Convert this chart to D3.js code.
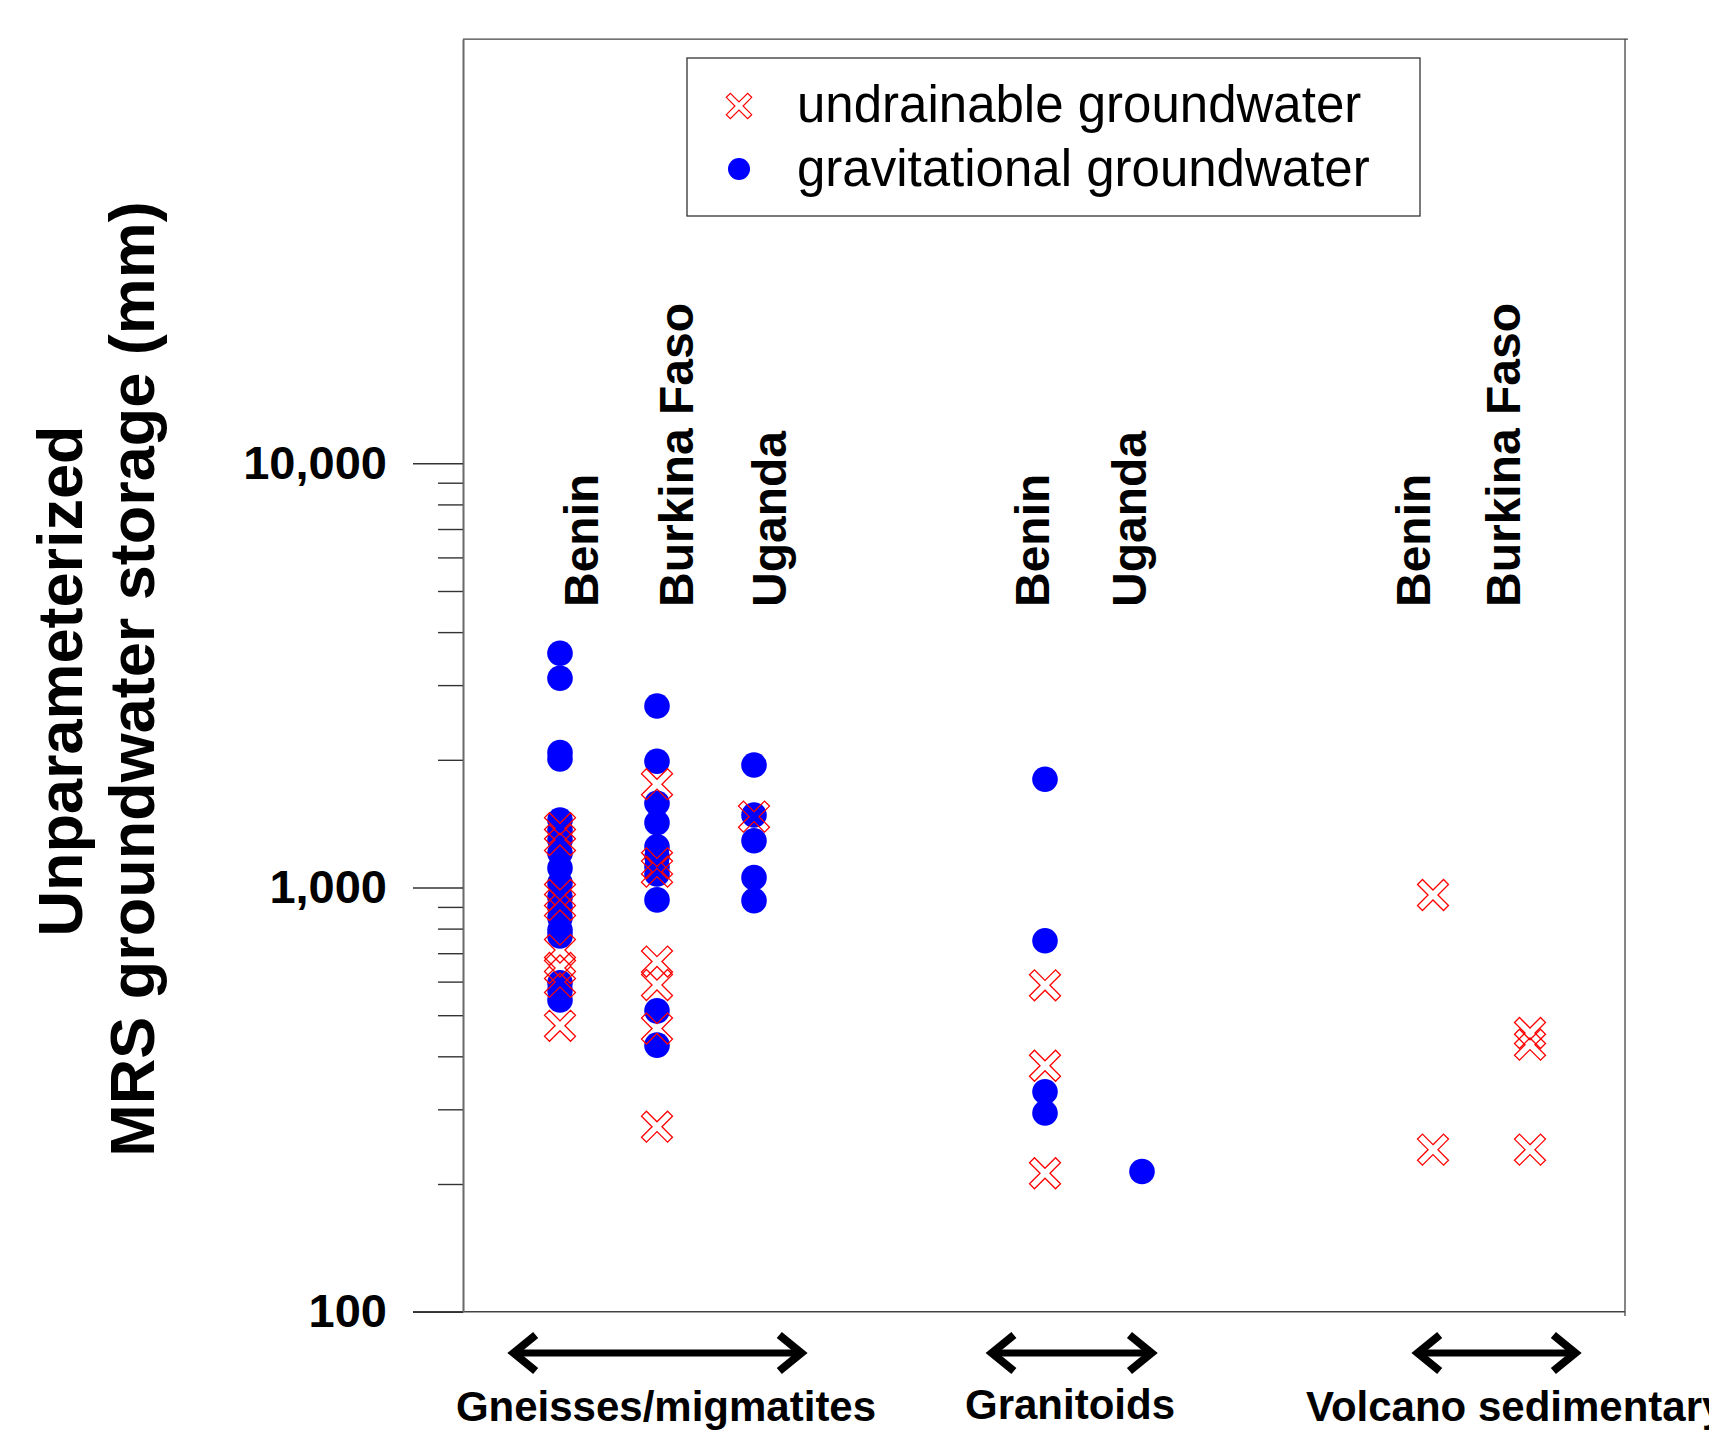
<!DOCTYPE html>
<html><head><meta charset="utf-8">
<script src="https://cdn.jsdelivr.net/npm/d3@7"></script>
<style>body{margin:0;background:#fff}</style>
</head><body>
<svg id="c" width="1709" height="1431"></svg>
<script>
// ---------- data ----------
const columnLabels = ["Benin", "Burkina Faso", "Uganda", "Benin", "Uganda", "Benin", "Burkina Faso"];
const columnPos = [1, 2, 3, 6, 7, 10, 11];
const gravitational = [
  [3565, 3113, 2079, 2009, 1443, 1366, 1294, 1206, 1112, 1025, 950, 899, 848, 794, 769, 596, 573, 543],
  [2678, 1984, 1580, 1421, 1248, 1182, 1119, 1076, 935, 512, 425],
  [1945, 1482, 1289, 1055, 931],
  [1799, 749, 330, 294],
  [214],
  [],
  []
];
const undrainable = [
  [1380, 1294, 960, 909, 712, 646, 599, 472],
  [1752, 1140, 1090, 669, 589, 465, 273],
  [1469],
  [588, 380, 212],
  [],
  [960, 241],
  [454, 426, 241]
];
const groupLabels = ["Gneisses/migmatites", "Granitoids", "Volcano sedimentary"];
const groupSpans = [[0.44, 3.57], [5.37, 7.18], [9.76, 11.55]];
const majorTicks = [100, 1000, 10000];
const majorTickLabels = ["100", "1,000", "10,000"];
const minorTicks = [200, 300, 400, 500, 600, 700, 800, 900, 2000, 3000, 4000, 5000, 6000, 7000, 8000, 9000];
const legendLabels = ["undrainable groundwater", "gravitational groundwater"];
const yTitle = ["Unparameterized", "MRS groundwater storage (mm)"];

// ---------- setup ----------
const FONT = "'Liberation Sans', Arial, Helvetica, sans-serif";
const svg = d3.select("#c");
svg.append("rect").attr("width", 1709).attr("height", 1431).attr("fill", "#fff");

const x = d3.scaleLinear().domain([0, 12]).range([463, 1627]);
const y = d3.scaleLog().domain([100, 100000]).range([1311.7, 39.1]);
// label baselines (text boxes placed slightly off the columns, as in the original)
const labelX = d3.scaleLinear().domain(columnPos).range([598, 693, 786, 1049, 1146, 1430, 1520]);

const AX = "#6a6a6a";

// frame
svg.append("line").attr("x1", x(0)).attr("x2", 1628).attr("y1", y(100000)).attr("y2", y(100000))
  .attr("stroke", "#444").attr("stroke-width", 1.3);
svg.append("line").attr("x1", 1625).attr("x2", 1625).attr("y1", y(100000)).attr("y2", 1316)
  .attr("stroke", "#444").attr("stroke-width", 1.3);
svg.append("line").attr("x1", 413).attr("x2", 1625).attr("y1", y(100)).attr("y2", y(100))
  .attr("stroke", "#444").attr("stroke-width", 1.5);

// y axis
const gMinor = svg.append("g").attr("transform", `translate(${x(0)},0)`)
  .call(d3.axisLeft(y).tickValues(minorTicks).tickSize(25).tickSizeOuter(0).tickFormat(""));
const gMajor = svg.append("g").attr("transform", `translate(${x(0)},0)`)
  .call(d3.axisLeft(y).tickValues(majorTicks).tickSize(50).tickSizeOuter(0).tickPadding(26)
    .tickFormat((d, i) => majorTickLabels[i]));
[gMinor, gMajor].forEach(g => {
  g.selectAll("path.domain").attr("stroke", AX).attr("stroke-width", 1.6);
  g.selectAll(".tick line").attr("stroke", "#333").attr("stroke-width", 1.4);
});
gMajor.selectAll(".tick text").attr("font-family", FONT).attr("font-size", 47)
  .attr("font-weight", "bold").attr("fill", "#000");

// y title
const yt = svg.append("g").attr("font-family", FONT).attr("font-weight", "bold")
  .attr("font-size", 63).attr("fill", "#000").attr("text-anchor", "middle");
yt.append("text").attr("transform", "translate(82,681) rotate(-90)").text(yTitle[0]);
yt.append("text").attr("transform", "translate(154,679) rotate(-90)").text(yTitle[1]);

// column labels
svg.append("g").selectAll("text").data(columnLabels).join("text")
  .attr("transform", (d, i) => `translate(${labelX(columnPos[i])},607) rotate(-90)`)
  .attr("font-family", FONT).attr("font-weight", "bold").attr("font-size", 48)
  .attr("fill", "#000").text(d => d);

// markers
const S2 = Math.SQRT2, w = 3.5, L = 18.4;
const a = w * S2, p = (L + w) / S2, q = (L - w) / S2;
const crossPts = [[0,-a],[q,-p],[p,-q],[a,0],[p,q],[q,p],[0,a],[-q,p],[-p,q],[-a,0],[-p,-q],[-q,-p]];
const crossPath = (k) => "M" + crossPts.map(c => [c[0]*k, c[1]*k].join(",")).join("L") + "Z";

const gravPts = [], undPts = [];
gravitational.forEach((vals, i) => vals.forEach(v => gravPts.push({ c: columnPos[i], v })));
undrainable.forEach((vals, i) => vals.forEach(v => undPts.push({ c: columnPos[i], v })));

svg.append("g").selectAll("circle").data(gravPts).join("circle")
  .attr("cx", d => x(d.c)).attr("cy", d => y(d.v)).attr("r", 12.8).attr("fill", "#0000ff");
svg.append("g").selectAll("path").data(undPts).join("path")
  .attr("transform", d => `translate(${x(d.c)},${y(d.v)})`)
  .attr("d", crossPath(1)).attr("fill", "none").attr("stroke", "#ff0000").attr("stroke-width", 1.3);

// legend
const lg = svg.append("g");
lg.append("rect").attr("x", 687).attr("y", 58).attr("width", 733).attr("height", 158)
  .attr("fill", "#fff").attr("stroke", "#333").attr("stroke-width", 1.3);
lg.append("path").attr("transform", "translate(739,106)").attr("d", crossPath(0.82))
  .attr("fill", "none").attr("stroke", "#ff0000").attr("stroke-width", 1.2);
lg.append("circle").attr("cx", 739).attr("cy", 169).attr("r", 11).attr("fill", "#0000ff");
lg.selectAll("text").data(legendLabels).join("text")
  .attr("x", 797).attr("y", (d, i) => [122, 186][i])
  .attr("font-family", FONT).attr("font-size", 51).attr("fill", "#000").text(d => d);

// group arrows
const ay = 1353;
const ag = svg.append("g").attr("stroke", "#000").attr("fill", "none");
groupSpans.forEach(([s, e]) => {
  const x0 = x(s), x1 = x(e);
  ag.append("line").attr("x1", x0 + 8).attr("x2", x1 - 8).attr("y1", ay).attr("y2", ay).attr("stroke-width", 7);
  ag.append("path").attr("d", `M${x0 + 30},${ay - 18}L${x0 + 8},${ay}L${x0 + 30},${ay + 18}`)
    .attr("stroke-width", 8).attr("stroke-linejoin", "miter");
  ag.append("path").attr("d", `M${x1 - 30},${ay - 18}L${x1 - 8},${ay}L${x1 - 30},${ay + 18}`)
    .attr("stroke-width", 8).attr("stroke-linejoin", "miter");
});

// group labels
const glx = [666, 1070, 1306];
const gly = [1421, 1419, 1421];
const gla = ["middle", "middle", "start"];
svg.append("g").selectAll("text").data(groupLabels).join("text")
  .attr("x", (d, i) => glx[i]).attr("y", (d, i) => gly[i]).attr("text-anchor", (d, i) => gla[i])
  .attr("font-family", FONT).attr("font-weight", "bold").attr("font-size", 42)
  .attr("fill", "#000").text(d => d);
</script>
</body></html>
